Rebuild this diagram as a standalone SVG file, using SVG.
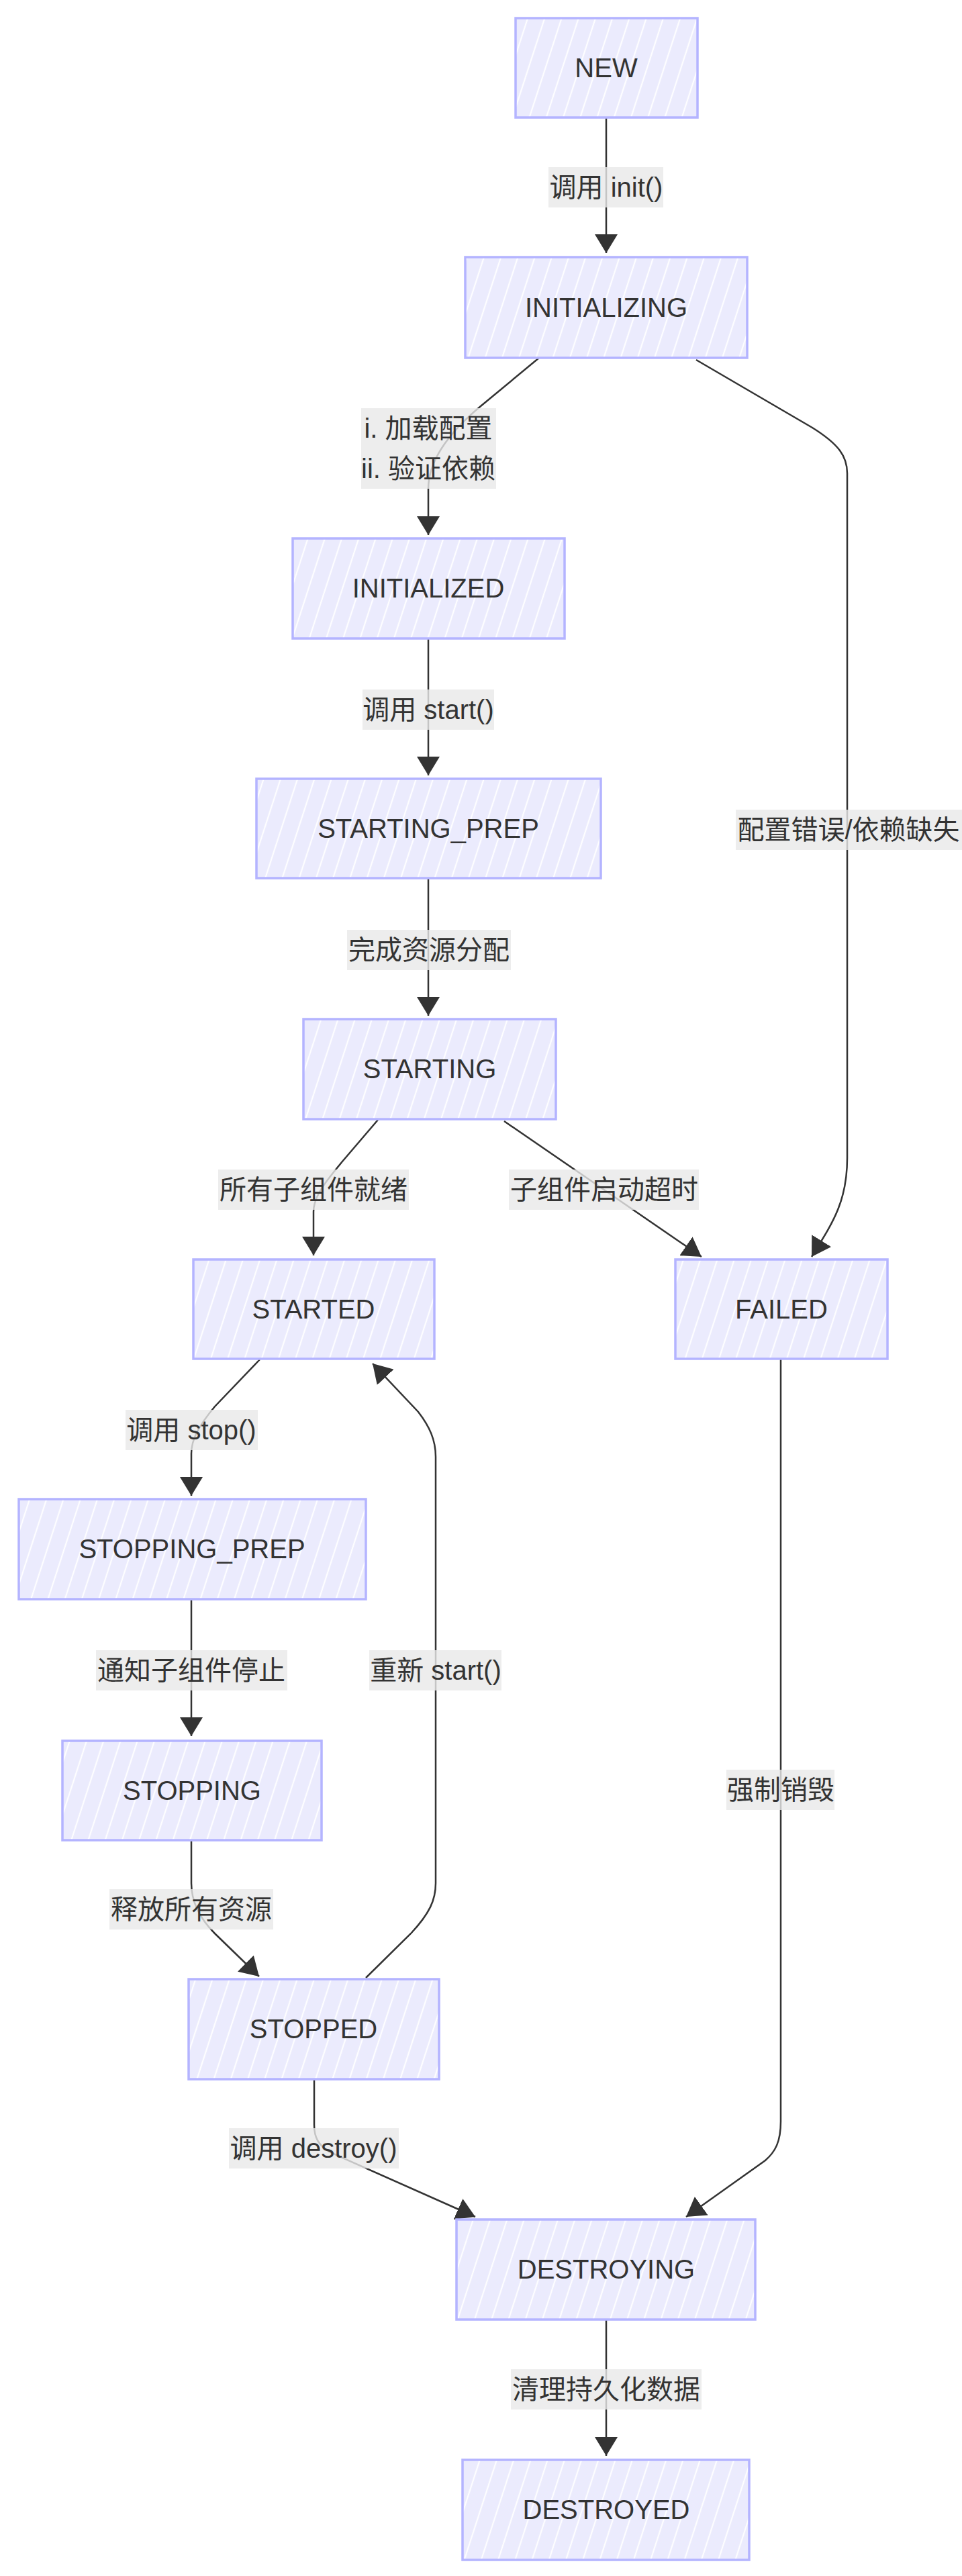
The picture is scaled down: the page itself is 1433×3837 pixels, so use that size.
<svg xmlns="http://www.w3.org/2000/svg" width="1433" height="3837" viewBox="0 0 1433 3837">
<style>
.node rect{fill:url(#hatch);stroke:#b4b4ff;stroke-width:3.5}
.node text{font-family:"Liberation Sans",Arial,"Noto Sans CJK SC",sans-serif;font-size:40px;fill:#333;text-anchor:middle;dominant-baseline:central}
.edge{fill:none;stroke:#333;stroke-width:2.5;marker-end:url(#arrow)}
.lbl rect{fill:#e8e8e8;fill-opacity:0.8}
.lbl text{font-family:"Liberation Sans",Arial,"Noto Sans CJK SC",sans-serif;font-size:40px;fill:#333;text-anchor:middle;dominant-baseline:central}
</style>
<defs>
<pattern id="hatch" patternUnits="userSpaceOnUse" width="24" height="24" patternTransform="rotate(18)">
<rect width="24" height="24" fill="#EBEBFD"/>
<line x1="12" y1="0" x2="12" y2="24" stroke="#ffffff" stroke-width="2.2" stroke-opacity="0.9"/>
</pattern>
<marker id="arrow" markerUnits="userSpaceOnUse" viewBox="0 0 28 34" refX="28" refY="17" markerWidth="28" markerHeight="34" orient="auto">
<path d="M0,0 L28,17 L0,34 z" fill="#333"/>
</marker>
</defs>
<rect width="1433" height="3837" fill="#ffffff"/>
<g id="connectors">
<path class="edge" d="M903,175 L903,377"/>
<path class="edge" d="M803,533 L716,605 C662,650 638,690 638,728 L638,797"/>
<path class="edge" d="M1037,536 L1210,637 C1250,662 1262,680 1262,705 L1262,1725 C1262,1790 1240,1822 1209,1872"/>
<path class="edge" d="M638,951 L638,1155"/>
<path class="edge" d="M638,1308 L638,1513"/>
<path class="edge" d="M563,1668 L510,1730 C485,1760 467,1782 467,1805 L467,1870"/>
<path class="edge" d="M751,1670 L1045,1872"/>
<path class="edge" d="M387,2025 L320,2095 C295,2125 285,2145 285,2165 L285,2228"/>
<path class="edge" d="M545,2946 L612,2880 C640,2850 649,2830 649,2805 L649,2170 C649,2145 640,2125 623,2103 L555,2031"/>
<path class="edge" d="M285,2382 L285,2586"/>
<path class="edge" d="M285,2741 L285,2805 C285,2835 300,2860 320,2880 L386,2944"/>
<path class="edge" d="M1163,2025 L1163,3160 C1163,3190 1155,3205 1140,3218 L1022,3302"/>
<path class="edge" d="M468,3097 L468,3165 C468,3185 475,3195 490,3205 L708,3302"/>
<path class="edge" d="M903,3455 L903,3658"/>
</g>
<g id="edge-labels">
<g class="lbl"><rect x="817" y="249" width="171" height="60"/><text x="903" y="279">调用 init()</text></g>
<g class="lbl"><rect x="538" y="608" width="201" height="120"/><text x="638" y="638">i. 加载配置</text><text x="638" y="698">ii. 验证依赖</text></g>
<g class="lbl"><rect x="1096" y="1206" width="337" height="60"/><text x="1264" y="1236">配置错误/依赖缺失</text></g>
<g class="lbl"><rect x="540" y="1027" width="196" height="60"/><text x="638" y="1057">调用 start()</text></g>
<g class="lbl"><rect x="517" y="1385" width="244" height="60"/><text x="639" y="1415">完成资源分配</text></g>
<g class="lbl"><rect x="325" y="1742" width="284" height="60"/><text x="467" y="1772">所有子组件就绪</text></g>
<g class="lbl"><rect x="758" y="1742" width="283" height="60"/><text x="900" y="1772">子组件启动超时</text></g>
<g class="lbl"><rect x="187" y="2100" width="197" height="60"/><text x="285" y="2130">调用 stop()</text></g>
<g class="lbl"><rect x="143" y="2458" width="285" height="60"/><text x="285" y="2488">通知子组件停止</text></g>
<g class="lbl"><rect x="550" y="2458" width="197" height="60"/><text x="649" y="2488">重新 start()</text></g>
<g class="lbl"><rect x="1082" y="2636" width="161" height="60"/><text x="1163" y="2666">强制销毁</text></g>
<g class="lbl"><rect x="163" y="2814" width="244" height="60"/><text x="285" y="2844">释放所有资源</text></g>
<g class="lbl"><rect x="341" y="3170" width="253" height="60"/><text x="467" y="3200">调用 destroy()</text></g>
<g class="lbl"><rect x="761" y="3529" width="284" height="60"/><text x="903" y="3559">清理持久化数据</text></g>
</g>
<g id="NEW" class="node"><rect x="768" y="27" width="271" height="148"/><text x="903" y="101">NEW</text></g>
<g id="INITIALIZING" class="node"><rect x="693" y="383" width="420" height="150"/><text x="903" y="458">INITIALIZING</text></g>
<g id="INITIALIZED" class="node"><rect x="436" y="802" width="405" height="149"/><text x="638" y="876">INITIALIZED</text></g>
<g id="STARTING_PREP" class="node"><rect x="382" y="1160" width="513" height="148"/><text x="638" y="1234">STARTING_PREP</text></g>
<g id="STARTING" class="node"><rect x="452" y="1518" width="376" height="149"/><text x="640" y="1592">STARTING</text></g>
<g id="STARTED" class="node"><rect x="288" y="1876" width="359" height="148"/><text x="467" y="1950">STARTED</text></g>
<g id="FAILED" class="node"><rect x="1006" y="1876" width="316" height="148"/><text x="1164" y="1950">FAILED</text></g>
<g id="STOPPING_PREP" class="node"><rect x="28" y="2233" width="517" height="149"/><text x="286" y="2307">STOPPING_PREP</text></g>
<g id="STOPPING" class="node"><rect x="93" y="2593" width="386" height="148"/><text x="286" y="2667">STOPPING</text></g>
<g id="STOPPED" class="node"><rect x="281" y="2948" width="373" height="149"/><text x="467" y="3022">STOPPED</text></g>
<g id="DESTROYING" class="node"><rect x="680" y="3306" width="445" height="149"/><text x="903" y="3380">DESTROYING</text></g>
<g id="DESTROYED" class="node"><rect x="689" y="3664" width="427" height="149"/><text x="903" y="3738">DESTROYED</text></g>
</svg>
